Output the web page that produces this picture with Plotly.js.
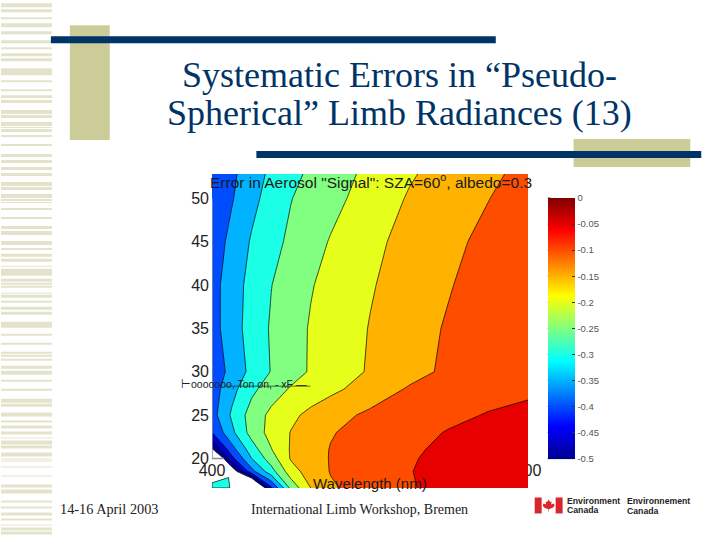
<!DOCTYPE html>
<html><head><meta charset="utf-8">
<script src="https://cdn.plot.ly/plotly-3.0.1.min.js"></script>
<style>html,body{margin:0;padding:0;background:#fff}</style></head>
<body><div id="chart" style="width:720px;height:540px"></div>
<script>
const wavelengths = [400,425,450,475,500,525,550,600,650,700,750,800];
const altitudes = [16.6,18.5,20,21,23,25,28,30,35,40,45,50,52.8];
const errRow166 = [-0.7,-0.7,-0.7,-0.41,-0.235,-0.15,-0.106,-0.078,-0.052,-0.042,-0.032,-0.024];
const errRow185 = [-0.7,-0.548,-0.368,-0.27,-0.172,-0.126,-0.098,-0.075,-0.051,-0.04,-0.03,-0.02];
const errRow20  = [-0.624,-0.415,-0.301,-0.224,-0.145,-0.1195,-0.0976,-0.075,-0.053,-0.04,-0.03,-0.022];
const errRow21  = [-0.51,-0.371,-0.276,-0.2025,-0.145,-0.12,-0.098,-0.078,-0.056,-0.041,-0.032,-0.025];
const errRow23  = [-0.4,-0.312,-0.231,-0.183,-0.148,-0.126,-0.103,-0.083,-0.065,-0.047,-0.036,-0.03];
const errRow25  = [-0.37,-0.293,-0.229,-0.188,-0.161,-0.137,-0.117,-0.091,-0.076,-0.061,-0.047,-0.036];
const errRow28  = [-0.375,-0.316,-0.262,-0.224,-0.195,-0.179,-0.162,-0.127,-0.095,-0.082,-0.0676,-0.06];
const errRow30  = [-0.383,-0.334,-0.287,-0.2477,-0.22,-0.195,-0.178,-0.145,-0.116,-0.0905,-0.069,-0.053];
const errRow35  = [-0.37,-0.3226,-0.28,-0.245,-0.2196,-0.196,-0.18,-0.148,-0.121,-0.0946,-0.075,-0.056];
const errRow40  = [-0.369,-0.324,-0.284,-0.251,-0.227,-0.203,-0.186,-0.154,-0.128,-0.103,-0.0775,-0.058];
const errRow45  = [-0.379,-0.336,-0.2955,-0.266,-0.24,-0.218,-0.197,-0.162,-0.1345,-0.111,-0.088,-0.065];
const errRow50  = [-0.393,-0.354,-0.314,-0.281,-0.2515,-0.233,-0.215,-0.179,-0.1455,-0.123,-0.101,-0.078];
const errRow53  = [-0.396,-0.36,-0.323,-0.29,-0.264,-0.241,-0.223,-0.188,-0.155,-0.131,-0.109,-0.087];
const bandColors = ['#00008f','#0000cc','#004dff','#00b2ff','#1affe6','#80ff80','#e6ff1a','#ffb300','#ff4d00','#e60000'];
const jetStops = [[0,'#00008f'],[0.125,'#0000ff'],[0.375,'#00ffff'],[0.625,'#ffff00'],[0.875,'#ff0000'],[1,'#800000']];
const colorbarTicks = [0,-0.05,-0.1,-0.15,-0.2,-0.25,-0.3,-0.35,-0.4,-0.45,-0.5];
const colorbarLabels = ['0','-0.05','-0.1','-0.15','-0.2','-0.25','-0.3','-0.35','-0.4','-0.45','-0.5'];
const altTicks = [20,25,30,35,40,45,50];
const islandX = [400,421,422.5,400,400];
const islandY = [17.2,17.8,16.6,16.6,17.2];
const frameX = [400,400,415];
const frameY = [50,20,20];
const stripes = [[3,7],[9,12],[17,19],[23,27],[31,34],[40,43],[47,49],[53,56],[58,61],[68,75],[80,82],[89,91],[95,98],[100,103],[110,114],[115,118],[122,126],[127,128],[129,132],[135,137],[144,146],[154,157],[160,163],[167,170],[173,176],[182,186],[187,190],[194,198],[199,201],[202,203],[208,210],[217,219],[226,229],[231,235],[241,245],[248,250],[254,257],[259,262],[266,267],[269,276],[279,282],[283,285],[286,288],[293,294],[295,298],[301,303],[307,310],[312,315],[322,328],[334,336],[343,345],[352,354],[355,357],[359,361],[366,369],[371,375],[380,382],[389,391],[399,403],[404,407],[413,417],[421,423],[426,429],[432,435],[438,439],[441,445],[446,449],[453,457],[459,460],[461,462],[467,468],[476,477],[485,488],[490,494],[501,503],[507,509],[513,516],[519,521],[525,526],[528,531],[532,535]];

const errGrid = [errRow166,errRow185,errRow20,errRow21,errRow23,errRow25,errRow28,errRow30,errRow35,errRow40,errRow45,errRow50,errRow53];

const L=211.5, R=528.3, T=174, B=488.5, W=R-L, H=B-T;
const px = x => (x-L)/W;
const py = y => (B-y)/H;

// Piecewise-constant scale: transparent below -0.5, then one colour per 0.05 band
const zMin=-0.55, zMax=0;
const bandScale=[[0,'rgba(255,255,255,0)'],[1/11,'rgba(255,255,255,0)']];
bandColors.forEach((c,i)=>{bandScale.push([(i+1)/11,c]);bandScale.push([(i+2)/11,c]);});

const rect=(x0,y0,x1,y1,c)=>({type:'rect',xref:'paper',yref:'paper',x0:px(x0),x1:px(x1),y0:py(y0),y1:py(y1),fillcolor:c,line:{width:0},layer:'below'});
const seg=(x0,y0,x1,y1,c,w)=>({type:'line',xref:'paper',yref:'paper',x0:px(x0),x1:px(x1),y0:py(y0),y1:py(y1),line:{color:c,width:w}});
const shapes=[];
stripes.forEach(s=>shapes.push(rect(0,s[0],51,s[1],'#e3e3cc')));
shapes.push(rect(69,25,109,140,'#cccc99'));
shapes.push(rect(574,139,691,167,'#cccc99'));
shapes.push(rect(50,36,496,43,'#003366'));
shapes.push(rect(256,151,702,158,'#003366'));
// colorbar ticks on the left side of the bar
colorbarTicks.forEach((t,i)=>{const y=198+26.1*i; shapes.push(seg(548,y,551,y,'#333',0.8));});
shapes.push(seg(548,459,575,459,'#777',1.2));
// garbled axis label baseline
shapes.push(seg(223,386.5,310,386.5,'#222',0.7));
// Canadian flag
shapes.push(rect(535,498,542,514,'#d8262c'));
shapes.push(rect(556,498,563,514,'#d8262c'));
const fx=x=>px(x).toFixed(4), fy=y=>py(y).toFixed(4);
const leaf=[[549,500],[550.5,502.5],[552,502],[551.5,505],[554,504],[555,506],[553.5,508],[550,509.5],[549.3,509.5],[549.3,512],[548.7,512],[548.7,509.5],[548,509.5],[544.5,508],[543,506],[544,504],[546.5,505],[546,502],[547.5,502.5]];
shapes.push({type:'path',xref:'paper',yref:'paper',fillcolor:'#d8262c',line:{width:0},path:'M'+leaf.map(p=>fx(p[0])+','+fy(p[1])).join('L')+'Z'});

const note=(text,x,y,size,fam,color,extra)=>Object.assign({text,xref:'paper',yref:'paper',x:px(x),y:py(y),showarrow:false,xanchor:'center',yanchor:'middle',font:{size,family:fam,color}},extra||{});
const serif='Liberation Serif', sans='Liberation Sans';
const boldSmall={xanchor:'left',font:{size:8.7,family:sans,color:'#222',weight:'bold'}};
const annotations=[
 note('Systematic Errors in “Pseudo-',399,75,36,serif,'#003366'),
 note('Spherical” Limb Radiances (13)',399,113,36,serif,'#003366'),
 note('Error in Aerosol "Signal": SZA=60<sup>o</sup>, albedo=0.3',370.5,181,15.5,sans,'#1a1a1a'),
 note('Wavelength (nm)',370,484,15,sans,'#1a1a1a'),
 note('⊢ooooooo, Ton on, - xF —',243.5,384,10.5,sans,'#222'),
 note('14-16 April 2003',109,510,14.3,serif,'#222'),
 note('International Limb Workshop, Bremen',359,510,14,serif,'#222'),
 note('Environment',565,501.5,8.7,sans,'#222',boldSmall),
 note('Canada',565,511,8.7,sans,'#222',boldSmall),
 note('Environnement',626,502,8.7,sans,'#222',boldSmall),
 note('Canada',626,512,8.7,sans,'#222',boldSmall)
];

const traces=[
 {type:'contour',x:wavelengths,y:altitudes,z:errGrid,zmin:zMin,zmax:zMax,colorscale:bandScale,showscale:false,
  autocontour:false,contours:{start:-0.5,end:-0.05,size:0.05,coloring:'fill'},line:{color:'#000',width:0.7,smoothing:0},hoverinfo:'skip'},
 {type:'scatter',mode:'lines',x:islandX,y:islandY,fill:'toself',fillcolor:'#1affe6',line:{color:'#000',width:0.7},hoverinfo:'skip',showlegend:false},
 {type:'scatter',mode:'lines',x:frameX,y:frameY,line:{color:'#8a8aa0',width:1.5},cliponaxis:false,hoverinfo:'skip',showlegend:false},
 {type:'scatter',mode:'markers',x:[400],y:[50],hoverinfo:'skip',showlegend:false,
  marker:{size:1,opacity:0,color:[0],cmin:-0.5,cmax:0,colorscale:jetStops,showscale:true,
   colorbar:{thicknessmode:'pixels',thickness:27,lenmode:'pixels',len:261,x:px(548),xanchor:'left',xpad:0,y:py(198),yanchor:'top',ypad:0,
    outlinewidth:0,borderwidth:0,tickmode:'array',tickvals:colorbarTicks,ticktext:colorbarLabels,ticks:'inside',ticklen:3,tickwidth:0.8,tickcolor:'#333',
    tickfont:{size:9.5,family:sans,color:'#555'}}}}
];

const layout={width:720,height:540,margin:{l:L,r:720-R,t:T,b:540-B,pad:0},paper_bgcolor:'#fff',plot_bgcolor:'rgba(0,0,0,0)',showlegend:false,
 xaxis:{range:[400,800],tickmode:'array',tickvals:[400,800],ticktext:['400','800'],ticks:'',showgrid:false,zeroline:false,showline:false,
   anchor:'free',position:(20-16.6)/(52.8-16.6),layer:'below traces',tickfont:{size:16,family:sans,color:'#222'}},
 yaxis:{range:[16.6,52.8],tickmode:'array',tickvals:altTicks,ticks:'',showgrid:false,zeroline:false,showline:false,ticklabelstandoff:2,
   tickfont:{size:16,family:sans,color:'#222'}},
 shapes,annotations};
Plotly.newPlot('chart',traces,layout,{displayModeBar:false,responsive:false});
</script></body></html>
